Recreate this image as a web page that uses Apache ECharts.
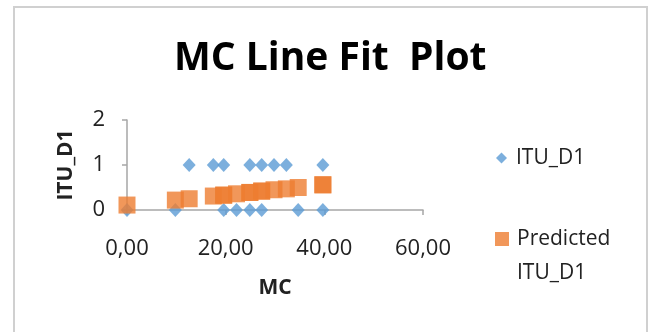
<!DOCTYPE html>
<html>
<head>
<meta charset="utf-8">
<script src="https://cdn.jsdelivr.net/npm/echarts@6/dist/echarts.min.js"></script>
<style>
  html, body { margin: 0; padding: 0; background: #fff; }
  #chart { width: 650px; height: 332px; }
</style>
</head>
<body>
<div id="chart"></div>
<script>
// Observed MC values with the binary ITU_D1 outcome, plus the fitted prediction at each point
const mcValues  = [0, 9.8, 12.6, 17.5, 19.6, 19.6, 22.2, 24.9, 24.9, 27.3, 27.3, 29.8, 32.3, 34.7, 39.7, 39.7];
const ituD1     = [0, 0, 1, 1, 1, 0, 0, 1, 0, 1, 0, 1, 1, 0, 1, 0];
const predicted = [0.11, 0.22, 0.25, 0.31, 0.33, 0.33, 0.36, 0.39, 0.39, 0.42, 0.42, 0.45, 0.47, 0.50, 0.56, 0.56];

const xTicks = [0, 20, 40, 60];
const yTicks = [0, 1, 2];

const FONT = '"Open Sans", Lato, sans-serif';
const AXIS_GREY = '#a6a6a6';

const observedPoints = mcValues.map((x, i) => [x, ituD1[i]]);
const predictedPoints = mcValues.map((x, i) => [x, predicted[i]]);

const chart = echarts.init(document.getElementById('chart'), null, { renderer: 'canvas' });

chart.setOption({
  backgroundColor: '#ffffff',
  animation: false,
  title: {
    text: 'MC Line Fit  Plot',
    left: 174,
    top: 39,
    padding: 0,
    textStyle: { fontFamily: FONT, fontSize: 39, fontWeight: 'bold', color: '#000000' }
  },
  graphic: [{
    type: 'rect',
    z: -1,
    shape: { x: 14, y: 7, width: 633, height: 340 },
    style: { fill: 'none', stroke: '#d0d0d0', lineWidth: 2 }
  }],
  legend: [{
    data: ['ITU_D1'],
    left: 496,
    top: 146,
    padding: 0,
    itemWidth: 11,
    itemHeight: 11,
    textStyle: { fontFamily: FONT, fontSize: 21, color: '#222', lineHeight: 24, padding: [0, 0, 0, 4] },
    selectedMode: false
  }, {
    // the icon path carries a near-invisible sliver so the square sits beside the first text line
    data: [{
      name: 'Predicted ITU_D1',
      icon: 'path://M0,0H14V14H0Z M0,47.9L0.1,48L0,48Z'
    }],
    left: 495,
    top: 222,
    padding: 0,
    itemWidth: 14,
    itemHeight: 48,
    formatter: () => 'Predicted\nITU_D1',
    textStyle: { fontFamily: FONT, fontSize: 21, color: '#222', lineHeight: 34, padding: [0, 0, 0, 3] },
    selectedMode: false
  }],
  grid: { left: 127, right: 227, top: 120, bottom: 122, containLabel: false },
  xAxis: {
    type: 'value',
    min: xTicks[0],
    max: xTicks[xTicks.length - 1],
    interval: xTicks[1] - xTicks[0],
    name: 'MC',
    nameLocation: 'middle',
    nameGap: 68,
    nameTextStyle: { fontFamily: FONT, fontSize: 21, fontWeight: 'bold', color: '#222' },
    axisLine: { show: true, lineStyle: { color: AXIS_GREY, width: 1.5 } },
    axisTick: { show: true, length: 5, lineStyle: { color: AXIS_GREY, width: 1.5 } },
    axisLabel: {
      margin: 28,
      fontFamily: FONT, fontSize: 22, color: '#222',
      formatter: v => v.toFixed(2).replace('.', ',')
    },
    splitLine: { show: false }
  },
  yAxis: {
    type: 'value',
    min: yTicks[0],
    max: yTicks[yTicks.length - 1],
    interval: yTicks[1] - yTicks[0],
    name: 'ITU_D1',
    nameLocation: 'middle',
    nameGap: 50,
    nameRotate: 90,
    nameTextStyle: { fontFamily: FONT, fontSize: 21, fontWeight: 'bold', color: '#222' },
    axisLine: { show: true, lineStyle: { color: AXIS_GREY, width: 1.5 } },
    axisTick: { show: true, length: 5, lineStyle: { color: AXIS_GREY, width: 1.5 } },
    axisLabel: { margin: 22, padding: [4, 0, 0, 0], fontFamily: FONT, fontSize: 22, color: '#222' },
    splitLine: { show: false }
  },
  series: [{
    name: 'ITU_D1',
    type: 'scatter',
    symbol: 'diamond',
    symbolSize: [13, 14],
    itemStyle: { color: '#5b9bd5' },
    data: observedPoints,
    z: 2
  }, {
    name: 'Predicted ITU_D1',
    type: 'scatter',
    symbol: 'rect',
    symbolSize: 17,
    itemStyle: { color: '#ed7d31' },
    data: predictedPoints,
    z: 3
  }]
});
</script>
</body>
</html>
